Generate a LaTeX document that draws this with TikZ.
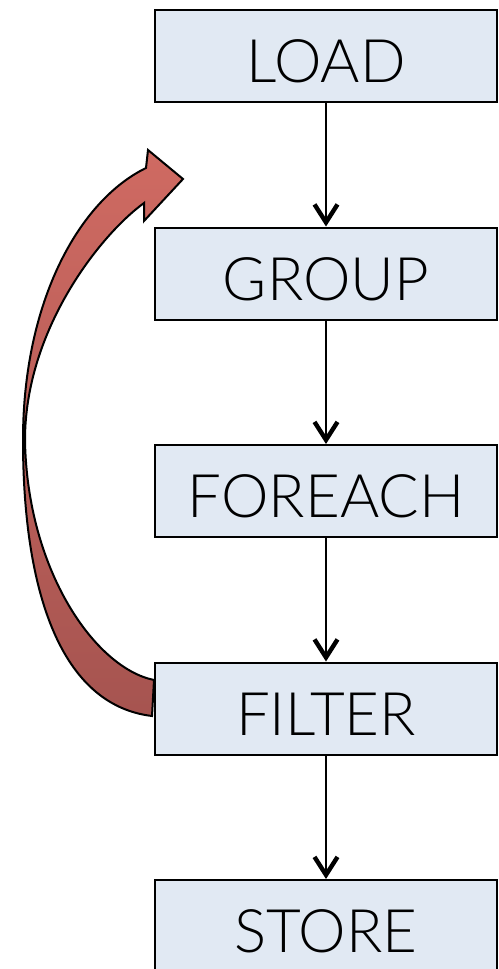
\documentclass[tikz,border=0pt]{standalone}
\usepackage{fontspec}
\setmainfont{Lato Light}
\usetikzlibrary{arrows.meta}
\definecolor{stagefill}{RGB}{225,233,243}
\definecolor{looptop}{RGB}{207,106,98}
\definecolor{loopbottom}{RGB}{166,84,80}
\begin{document}
\begin{tikzpicture}[x=0.5pt, y=-0.5pt,
  stage/.style={draw=black, line width=1pt, fill=stagefill, minimum width=171pt, minimum height=46pt, inner sep=0pt, text height=26.5pt, text depth=0pt, font=\fontsize{30}{30}\selectfont},
  flow/.style={->, >={Straight Barb[length=9pt, width=11.5pt, line width=2.2pt]}, line width=0.8pt, color=black}]
\useasboundingbox (0,0) rectangle (498,969);
\node[stage] (load) at (326, 56) {LOAD};
\node[stage] (group) at (326, 56+217.5) {GROUP};
\node[stage] (foreach) at (326, 56+2*217.5) {FOREACH};
\node[stage] (filter) at (326, 56+3*217.5) {FILTER};
\node[stage] (store) at (326, 56+4*217.5) {STORE};
\draw[flow] (load) to (group);
\draw[flow] (group) to (foreach);
\draw[flow] (foreach) to (filter);
\draw[flow] (filter) to (store);
% loop back from FILTER
\draw[line width=1pt, top color=looptop, bottom color=loopbottom]
  (152,716) .. controls (60,705) and (23,590) .. (23,440)
  .. controls (23,300) and (80,200) .. (146,168)
  -- (148,150) -- (183,179) -- (144,221) -- (144,203)
  .. controls (100,235) and (25,330) .. (25,440)
  .. controls (27,570) and (95,668) .. (154,680) -- cycle;
\end{tikzpicture}
\end{document}
